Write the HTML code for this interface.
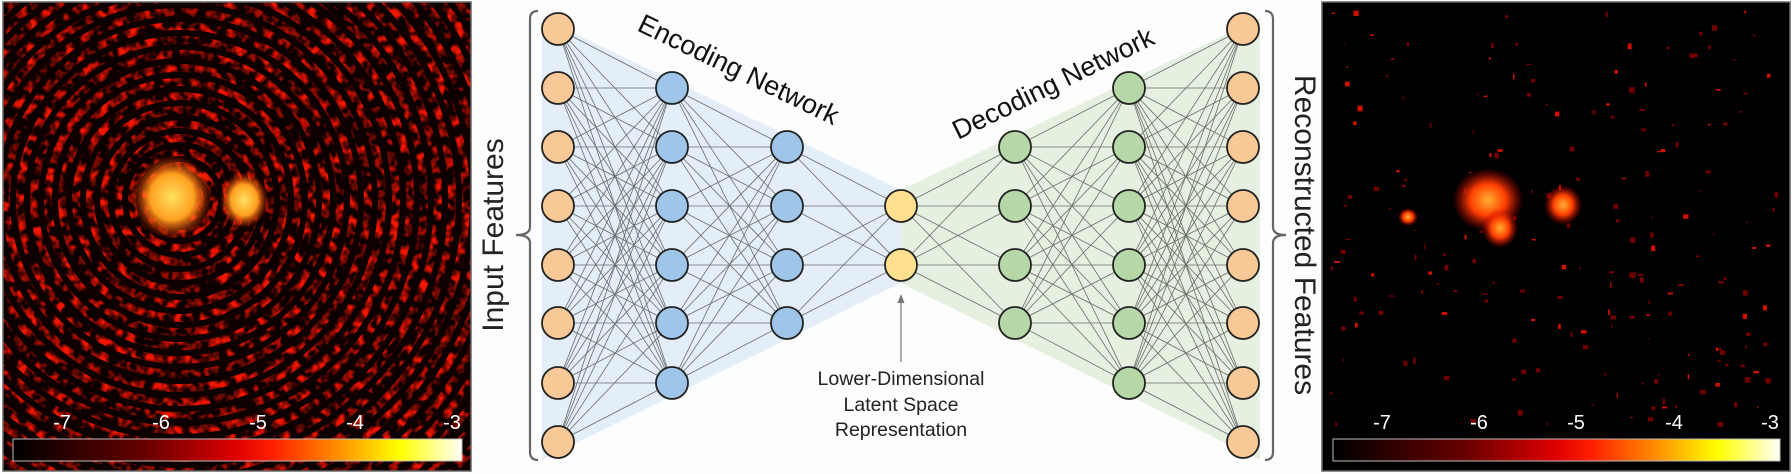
<!DOCTYPE html>
<html><head><meta charset="utf-8"><style>
html,body{margin:0;padding:0;background:#fdfdfd;width:1792px;height:474px;overflow:hidden;}
body{position:relative;font-family:"Liberation Sans",sans-serif;}
svg{display:block;}
</style></head><body>
<svg width="1792" height="474" viewBox="0 0 1792 474" xmlns="http://www.w3.org/2000/svg" style="position:absolute;left:0;top:0">
<defs>
<linearGradient id="cb" x1="0" x2="1" y1="0" y2="0">
<stop offset="0" stop-color="#000"/>
<stop offset="0.3" stop-color="#6a0000"/>
<stop offset="0.5" stop-color="#e00000"/>
<stop offset="0.58" stop-color="#ff2000"/>
<stop offset="0.72" stop-color="#ff8c00"/>
<stop offset="0.86" stop-color="#ffff00"/>
<stop offset="1" stop-color="#fffff8"/>
</linearGradient>
<filter id="noise" x="0" y="0" width="100%" height="100%">
<feTurbulence type="fractalNoise" baseFrequency="0.11" numOctaves="2" seed="3" result="t"/>
<feColorMatrix in="t" type="matrix" values="0 0 0 0 0  0 0 0 0 0  0 0 0 0 0  0 0 0 -3.0 1.8" result="a"/>
<feComposite in="SourceGraphic" in2="a" operator="in"/>
</filter>
<radialGradient id="b1" cx="0.5" cy="0.5" r="0.5">
<stop offset="0" stop-color="#ffe060"/><stop offset="0.55" stop-color="#ffa020"/><stop offset="1" stop-color="#ff3000" stop-opacity="0"/>
</radialGradient>
<radialGradient id="b2" cx="0.5" cy="0.5" r="0.5">
<stop offset="0" stop-color="#ffb030"/><stop offset="0.5" stop-color="#ff4000"/><stop offset="1" stop-color="#c00000" stop-opacity="0"/>
</radialGradient>
<clipPath id="lc"><rect x="3" y="2" width="468" height="469"/></clipPath>
</defs>

<g clip-path="url(#lc)">
<rect x="3" y="2" width="468" height="469" fill="#0c0000"/>
<g id="rings" filter="url(#noise)"></g>
<ellipse cx="172" cy="197" rx="40" ry="42" fill="url(#b1)"/>
<ellipse cx="244" cy="200" rx="24" ry="28" fill="url(#b1)"/>
</g>
<rect x="3" y="2" width="468" height="469" fill="none" stroke="#666" stroke-width="1.5"/>
<rect x="13" y="439" width="449" height="22" fill="url(#cb)" stroke="#bbb" stroke-width="1"/>
<g fill="#fff" font-size="20" text-anchor="middle">
<text x="62" y="429">-7</text><text x="161" y="429">-6</text><text x="258" y="429">-5</text><text x="355" y="429">-4</text><text x="452" y="429">-3</text>
</g>

<rect x="1322" y="2" width="468" height="469" fill="#000" stroke="#666" stroke-width="1.5"/>
<g id="specks"></g>
<ellipse cx="1488" cy="200" rx="36" ry="32" fill="url(#b2)"/>
<ellipse cx="1500" cy="228" rx="18" ry="20" fill="url(#b2)"/>
<ellipse cx="1563" cy="205" rx="19" ry="20" fill="url(#b2)"/>
<ellipse cx="1408" cy="217" rx="10" ry="9" fill="url(#b2)"/>
<rect x="1333" y="439" width="447" height="22" fill="url(#cb)" stroke="#bbb" stroke-width="1"/>
<g fill="#fff" font-size="20" text-anchor="middle">
<text x="1382" y="429">-7</text><text x="1479" y="429">-6</text><text x="1576" y="429">-5</text><text x="1674" y="429">-4</text><text x="1770" y="429">-3</text>
</g>

<polygon points="542,18 901,190 901,283 542,460" fill="#e3eef8"/>
<polygon points="901,190 1260,18 1260,460 901,283" fill="#e6f0e0"/>

<g id="edges" stroke="#555" stroke-width="0.8" opacity="0.85"></g>
<g id="nodes" stroke="#222" stroke-width="1.8"></g>

<path d="M538,11 Q530,11 530,19 L530,227 Q530,235 516,235 Q530,235 530,243 L530,452 Q530,460 538,460" fill="none" stroke="#666" stroke-width="2.2"/>
<path d="M1265,11 Q1273,11 1273,19 L1273,227 Q1273,235 1286,235 Q1273,235 1273,243 L1273,452 Q1273,460 1265,460" fill="none" stroke="#666" stroke-width="2.2"/>

<text x="0" y="0" font-size="30" fill="#222" text-anchor="middle" transform="translate(503,235) rotate(-90)">Input Features</text>
<text x="0" y="0" font-size="30" fill="#222" text-anchor="middle" transform="translate(1295,235) rotate(90)">Reconstructed Features</text>
<text x="0" y="0" font-size="27" fill="#111" transform="translate(636,30) rotate(25.8)">Encoding Network</text>
<text x="0" y="0" font-size="27" fill="#111" transform="translate(958,140) rotate(-26)">Decoding Network</text>

<line x1="901" y1="362" x2="901" y2="300" stroke="#777" stroke-width="1.2"/>
<polygon points="901,294 897.5,303 904.5,303" fill="#777"/>
<g font-size="19.5" fill="#222" text-anchor="middle">
<text x="901" y="385">Lower-Dimensional</text>
<text x="901" y="411">Latent Space</text>
<text x="901" y="436">Representation</text>
</g>
</svg>
<script>
var NS="http://www.w3.org/2000/svg";
function el(t,a,p){var e=document.createElementNS(NS,t);for(var k in a)e.setAttribute(k,a[k]);p.appendChild(e);return e;}
var r8=[29,88,147,206,265,323,383,442],r6=[88,147,206,265,323,383],r4=[147,206,265,323],r2=[206,265];
var layers=[[558,r8,"#f9c897"],[672,r6,"#9fc5e8"],[787,r4,"#9fc5e8"],[901,r2,"#ffe08f"],[1015,r4,"#b6d7a8"],[1129,r6,"#b6d7a8"],[1243,r8,"#f9c897"]];
var E=document.getElementById("edges"),N=document.getElementById("nodes");
for(var i=0;i<layers.length-1;i++){var A=layers[i],B=layers[i+1];
A[1].forEach(function(ya){B[1].forEach(function(yb){el("line",{x1:A[0],y1:ya,x2:B[0],y2:yb},E);});});}
layers.forEach(function(L){L[1].forEach(function(y){el("circle",{cx:L[0],cy:y,r:16,fill:L[2]},N);});});
var R=document.getElementById("rings");
for(var r=6;r<520;r+=14){el("circle",{cx:180,cy:200,r:r,fill:"none",stroke:"#f01400","stroke-width":8},R);}
var S=document.getElementById("specks"),s=7;
function rnd(){s=(s*16807)%2147483647;return s/2147483647;}
for(var k=0;k<200;k++){var x=1330+rnd()*450,y=10+rnd()*415;el("rect",{x:x,y:y,width:1+rnd()*5,height:1+rnd()*5,fill:rnd()<0.3?"#d01000":"#700000"},S);}
</script>
</body></html>
